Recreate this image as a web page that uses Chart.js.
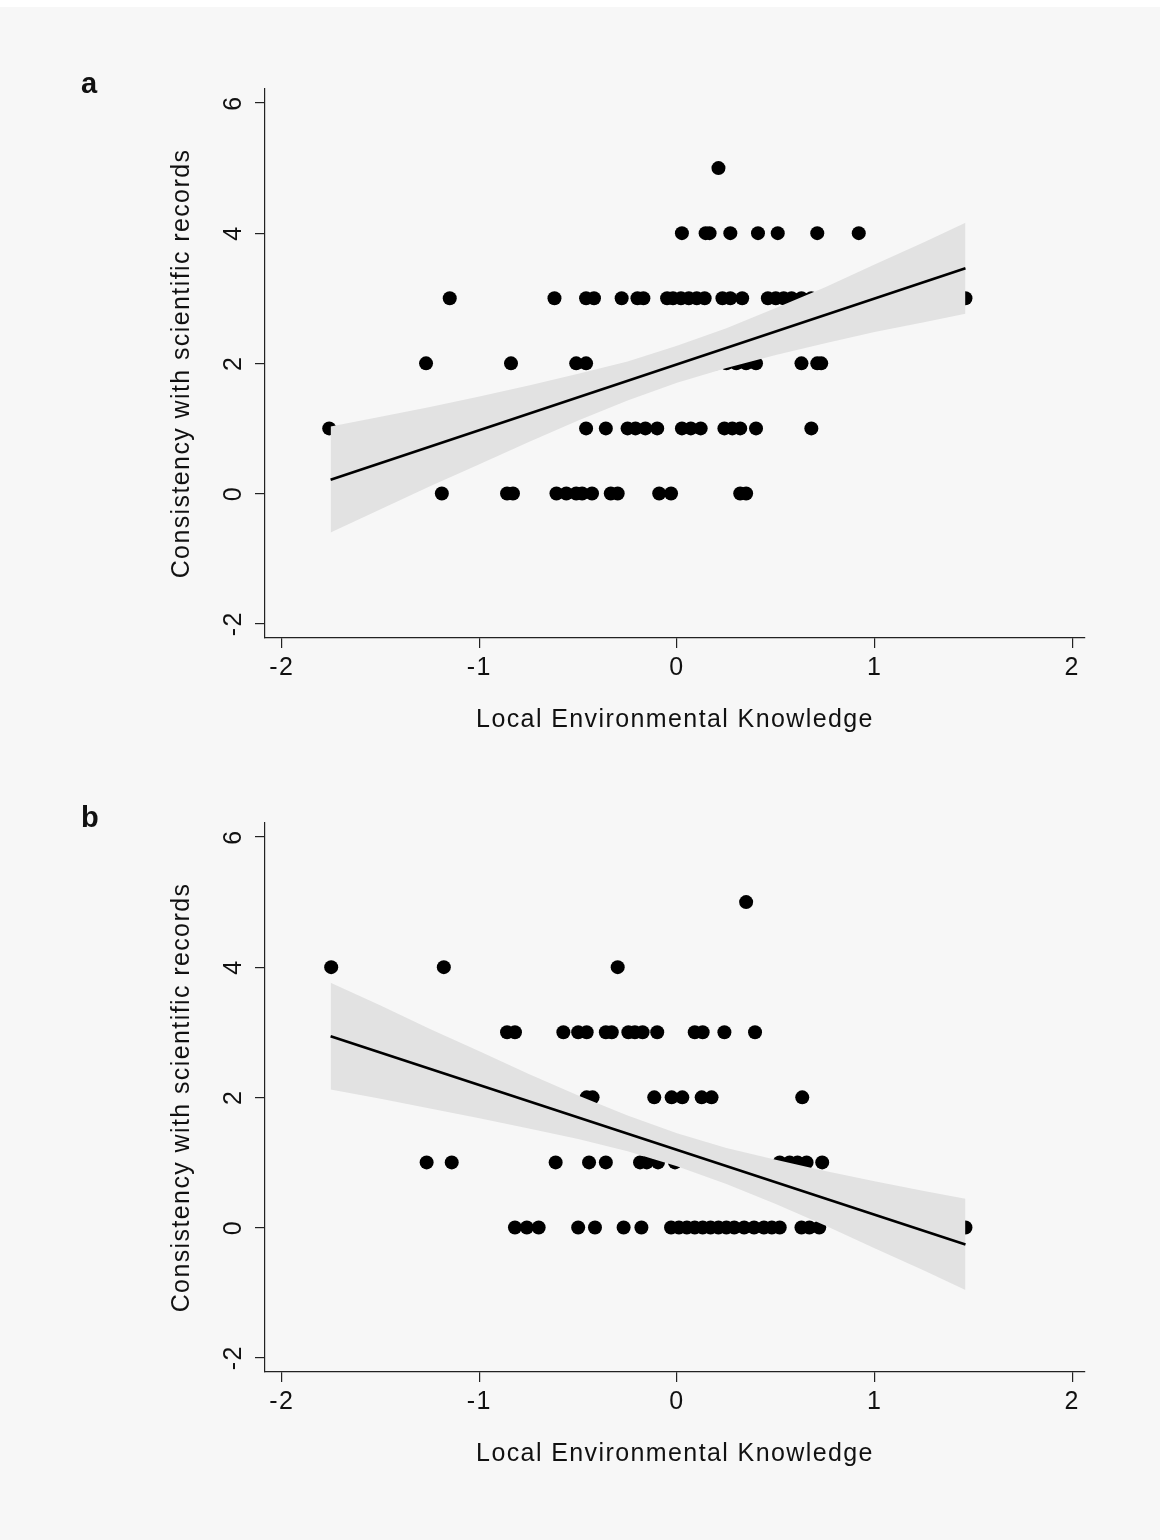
<!DOCTYPE html>
<html>
<head>
<meta charset="utf-8">
<title>Consistency with scientific records vs Local Environmental Knowledge</title>
<script src="https://cdn.jsdelivr.net/npm/chart.js@4.4.1/dist/chart.umd.min.js"></script>
<style>
  html, body { margin: 0; padding: 0; }
  body {
    width: 1160px; height: 1540px; position: relative; overflow: hidden;
    background: #f7f7f7;
    font-family: "Liberation Sans", Arial, Helvetica, sans-serif;
  }
  .top-strip { position: absolute; left: 0; top: 0; width: 1160px; height: 7px; background: #fff; }
  .panel { position: absolute; left: 0; width: 1160px; height: 760px; }
  .panel canvas { display: block; }
  .panel-label { position: absolute; left: 81px; font-weight: bold; font-size: 29px; line-height: 29px; color: #111; }
</style>
</head>
<body>
<div class="top-strip"></div>
<div class="panel" style="top:0"><canvas id="chartA" width="1160" height="760"></canvas></div>
<div class="panel" style="top:734px"><canvas id="chartB" width="1160" height="760"></canvas></div>
<div class="panel-label" style="top:69px">a</div>
<div class="panel-label" style="top:803px">b</div>

<script>
// Axis ticks
const xTicks = [-2, -1, 0, 1, 2];
const yTicks = [-2, 0, 2, 4, 6];

// Score levels (y) and the knowledge values (x) observed at each level
const scoreLevels = [5, 4, 3, 2, 1, 0];

const panelAKnowledge = [
  [0.21],
  [0.025, 0.145, 0.165, 0.27, 0.41, 0.51, 0.71, 0.92],
  [-1.15, -0.62, -0.46, -0.42, -0.28, -0.20, -0.17, -0.05, -0.02, 0.02, 0.06, 0.10, 0.14,
   0.23, 0.27, 0.33, 0.46, 0.50, 0.54, 0.58, 0.63, 0.68, 1.46],
  [-1.27, -0.84, -0.51, -0.46, 0.15, 0.20, 0.25, 0.30, 0.35, 0.40, 0.63, 0.71, 0.73],
  [-1.76, -0.46, -0.36, -0.25, -0.21, -0.16, -0.10, 0.025, 0.07, 0.12, 0.24, 0.28, 0.32, 0.40, 0.68],
  [-1.19, -0.86, -0.83, -0.61, -0.56, -0.51, -0.48, -0.43, -0.335, -0.30, -0.09, -0.03, 0.32, 0.35]
];

const panelBKnowledge = [
  [0.35],
  [-1.75, -1.18, -0.30],
  [-0.86, -0.82, -0.575, -0.50, -0.457, -0.36, -0.33, -0.246, -0.213, -0.174, -0.10, 0.09, 0.13, 0.24, 0.395],
  [-0.457, -0.427, -0.115, -0.027, 0.027, 0.125, 0.175, 0.634],
  [-1.267, -1.14, -0.614, -0.445, -0.36, -0.187, -0.153, -0.096, -0.01, 0.52, 0.57, 0.61, 0.656, 0.735],
  [-0.82, -0.76, -0.70, -0.50, -0.415, -0.27, -0.18, -0.03, 0.01, 0.05, 0.09, 0.13, 0.17, 0.21,
   0.25, 0.29, 0.34, 0.39, 0.44, 0.48, 0.52, 0.63, 0.67, 0.72, 1.46]
];

// Fitted line end points
const fitX = [-1.753, 1.46];
const fitA = [0.21, 3.46];
const fitB = [2.94, -0.26];

// Confidence band
const bandX = [-1.753, -1.5, -1.25, -1.0, -0.75, -0.5, -0.25, 0, 0.25, 0.5, 0.75, 1.0, 1.25, 1.46];
const bandAUpper = [1.03, 1.18, 1.33, 1.49, 1.66, 1.84, 2.03, 2.27, 2.54, 2.85, 3.17, 3.52, 3.86, 4.16];
const bandALower = [-0.60, -0.24, 0.11, 0.45, 0.79, 1.12, 1.43, 1.70, 1.93, 2.13, 2.31, 2.48, 2.63, 2.76];
const bandBUpper = [3.76, 3.41, 3.05, 2.71, 2.36, 2.03, 1.72, 1.45, 1.22, 1.04, 0.87, 0.71, 0.56, 0.44];
const bandBLower = [2.12, 1.98, 1.83, 1.68, 1.52, 1.36, 1.17, 0.94, 0.67, 0.36, 0.03, -0.32, -0.66, -0.96];

const FONT = '"Liberation Sans", Arial, Helvetica, sans-serif';
const INK = '#111';
const SPACING = '1.4px';

document.addEventListener("DOMContentLoaded", () => {
  Chart.defaults.font.family = FONT;
  Chart.defaults.color = INK;

  // Stata's text runs a bit wider than Arial, so add some letter spacing
  const spacingPlugin = {
    id: 'letterSpacing',
    beforeUpdate(chart) { chart.ctx.letterSpacing = SPACING; },
    beforeDraw(chart) { chart.ctx.letterSpacing = SPACING; }
  };

  function toPairs(xs, ys) {
    return xs.map((x, i) => ({ x: x, y: ys[i] }));
  }

  function toPoints(knowledge) {
    const pts = [];
    knowledge.forEach((row, i) => {
      row.forEach(x => pts.push({ x: x, y: scoreLevels[i] }));
    });
    return pts;
  }

  function makeChart(canvasId, knowledge, fitY, upper, lower) {
    const ctx = document.getElementById(canvasId).getContext('2d');
    return new Chart(ctx, {
      type: 'scatter',
      data: {
        datasets: [
          {
            // fitted line (first dataset is drawn on top)
            type: 'line',
            data: toPairs(fitX, fitY),
            borderColor: '#000',
            borderWidth: 2.6,
            pointRadius: 0,
            fill: false
          },
          {
            type: 'line',
            data: toPairs(bandX, upper),
            borderWidth: 0,
            borderColor: 'rgba(0,0,0,0)',
            pointRadius: 0,
            backgroundColor: '#e2e2e2',
            fill: '+1'
          },
          {
            type: 'line',
            data: toPairs(bandX, lower),
            borderWidth: 0,
            borderColor: 'rgba(0,0,0,0)',
            pointRadius: 0,
            fill: false
          },
          {
            type: 'scatter',
            data: toPoints(knowledge),
            pointRadius: 7,
            pointHoverRadius: 7,
            backgroundColor: '#000',
            borderWidth: 0
          }
        ]
      },
      options: {
        responsive: false,
        animation: false,
        layout: { padding: { top: 89, right: 75, left: 0, bottom: 0 } },
        plugins: {
          legend: { display: false },
          tooltip: { enabled: false }
        },
        scales: {
          x: {
            type: 'linear',
            min: -2.085,
            max: 2.065,
            afterBuildTicks: (scale) => { scale.ticks = xTicks.map(v => ({ value: v })); },
            afterFit: (scale) => { scale.height = 122; },
            grid: { drawOnChartArea: false, drawTicks: true, tickLength: 10, color: '#222', lineWidth: 1.2 },
            border: { display: true, color: '#222', width: 1.2 },
            ticks: { color: INK, font: { size: 25 }, padding: 5, maxRotation: 0, autoSkip: false },
            title: {
              display: true,
              text: 'Local Environmental Knowledge',
              color: INK,
              font: { size: 25 },
              padding: { top: 0, bottom: 25 }
            }
          },
          y: {
            type: 'linear',
            min: -2.22,
            max: 6.215,
            afterBuildTicks: (scale) => { scale.ticks = yTicks.map(v => ({ value: v })); },
            afterFit: (scale) => { scale.width = 265; },
            grid: { drawOnChartArea: false, drawTicks: true, tickLength: 10, color: '#222', lineWidth: 1.2 },
            border: { display: true, color: '#222', width: 1.2 },
            ticks: {
              color: INK,
              font: { size: 25 },
              padding: 8,
              minRotation: 90,
              maxRotation: 90,
              crossAlign: 'center',
              autoSkip: false
            },
            title: {
              display: true,
              text: 'Consistency with scientific records',
              color: INK,
              font: { size: 25 },
              padding: { top: 167, bottom: 0 }
            }
          }
        }
      },
      plugins: [spacingPlugin]
    });
  }

  makeChart('chartA', panelAKnowledge, fitA, bandAUpper, bandALower);
  makeChart('chartB', panelBKnowledge, fitB, bandBUpper, bandBLower);
});
</script>
</body>
</html>
